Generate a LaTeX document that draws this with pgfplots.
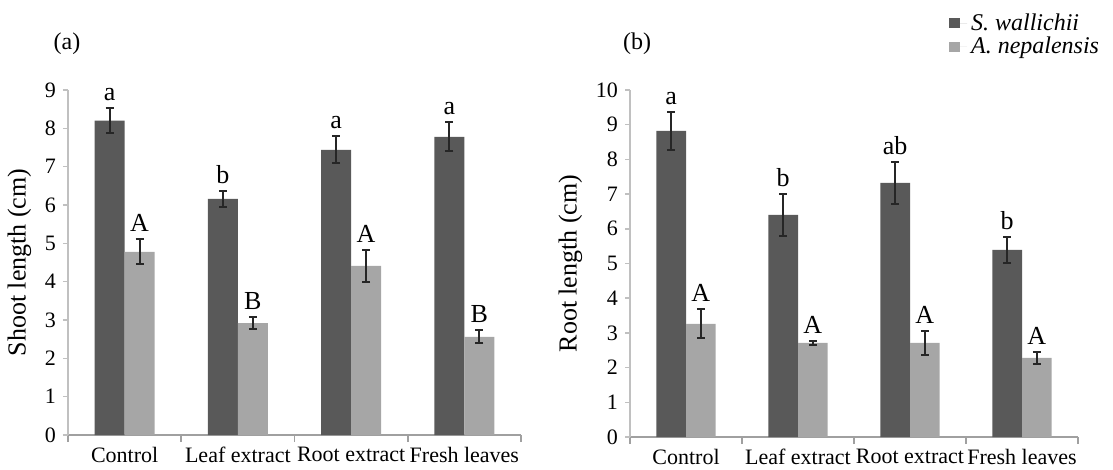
\documentclass[border=0pt]{standalone}
\usepackage{fontspec}
\setmainfont{Liberation Serif}
\usepackage{pgfplots}
\usepackage{pgfplotstable}
\pgfplotsset{compat=1.18}

\definecolor{darkbar}{RGB}{89,89,89}
\definecolor{lightbar}{RGB}{166,166,166}
\definecolor{errcol}{RGB}{38,38,38}
\definecolor{yaxiscol}{RGB}{192,192,192}
\definecolor{xaxiscol}{RGB}{160,160,160}

% mean, standard error and letter group for each treatment
\pgfplotstableread{
x sw swerr an anerr swlab anlab
0 8.20 0.33 4.78 0.33 a A
1 6.16 0.20 2.92 0.15 b B
2 7.44 0.35 4.41 0.42 a A
3 7.78 0.38 2.56 0.17 a B
}\shoot

\pgfplotstableread{
x sw swerr an anerr swlab anlab
0 8.82 0.55 3.26 0.42 a A
1 6.40 0.60 2.71 0.06 b A
2 7.32 0.60 2.71 0.35 ab A
3 5.39 0.37 2.28 0.17 b A
}\root

\pgfplotsset{
  panel/.style={
    scale only axis,
    clip=false,
    xmin=-0.5, xmax=3.5,
    ymin=0,
    axis x line*=bottom, axis y line*=left,
    x axis line style={xaxiscol, line width=1pt},
    y axis line style={yaxiscol, line width=1pt},
    xtick={0,1,2,3},
    xticklabels={Control, Leaf extract, Root extract, Fresh leaves},
    minor xtick={-0.5,0.5,1.5,2.5,3.5},
    major x tick style={draw=none},
    minor x tick style={xaxiscol, line width=0.8pt},
    minor tick length=3.5pt,
    major tick length=2.5pt,
    y tick style={yaxiscol, line width=0.8pt},
    tick align=outside,
    ytick distance=1,
    /pgf/number format/assume math mode=true,
    yticklabel style={font=\fontsize{11}{13}\selectfont},
    xticklabel style={font=\fontsize{11}{13}\selectfont},
    ylabel style={font=\fontsize{13}{15}\selectfont},
  },
  % bars are placed at the shifted x directly so the error bars sit on them
  darkbars/.style={ybar, bar width=0.265, bar shift=0, fill=darkbar, draw=none,
    error bars/.cd, y dir=both, y explicit,
    error bar style={errcol, line width=1pt},
    error mark options={errcol, rotate=90, mark size=2pt, line width=1pt}},
  lightbars/.style={ybar, bar width=0.265, bar shift=0, fill=lightbar, draw=none,
    error bars/.cd, y dir=both, y explicit,
    error bar style={errcol, line width=1pt},
    error mark options={errcol, rotate=90, mark size=2pt, line width=1pt}},
  letters/.style={draw=none, mark=none, nodes near coords, point meta=explicit symbolic,
    nodes near coords style={anchor=south, inner sep=3.5pt, font=\fontsize{13}{15}\selectfont, text=black}},
}

\begin{document}
\begin{tikzpicture}
\path[use as bounding box] (0pt,0pt) rectangle (556.5pt,-235pt);

\node[font=\fontsize{12}{14}\selectfont] at (33.5pt,-22pt) {(a)};
\node[font=\fontsize{12}{14}\selectfont] at (318.5pt,-22pt) {(b)};

% (a) shoot length
\begin{axis}[panel, at={(34pt,-217.5pt)}, anchor=south west,
  width=226.5pt, height=172.5pt, ymax=9,
  ylabel={Shoot length (cm)}]
\addplot[darkbars] table[x expr=\thisrow{x}-0.1325, y=sw, y error=swerr] {\shoot};
\addplot[lightbars] table[x expr=\thisrow{x}+0.1325, y=an, y error=anerr] {\shoot};
\addplot[letters] table[x expr=\thisrow{x}-0.1325, y expr=\thisrow{sw}+\thisrow{swerr}, meta=swlab] {\shoot};
\addplot[letters] table[x expr=\thisrow{x}+0.1325, y expr=\thisrow{an}+\thisrow{anerr}, meta=anlab] {\shoot};
\end{axis}

% (b) root length
\begin{axis}[panel, at={(315pt,-218.5pt)}, anchor=south west,
  width=224pt, height=173.5pt, ymax=10,
  ylabel={Root length (cm)},
  legend style={at={(0.698,1.245)}, anchor=north west, draw=none, fill=none,
    font=\fontsize{12}{14}\selectfont\itshape, row sep=-2pt},
  legend cell align=left,
  legend image code/.code={\path (0pt,0pt) -- (9pt,0pt);
    \path[fill, draw=none] (0pt,-2.5pt) rectangle (5.5pt,2.5pt);}]
\addplot[darkbars] table[x expr=\thisrow{x}-0.1325, y=sw, y error=swerr] {\root};
\addplot[lightbars] table[x expr=\thisrow{x}+0.1325, y=an, y error=anerr] {\root};
\addplot[letters] table[x expr=\thisrow{x}-0.1325, y expr=\thisrow{sw}+\thisrow{swerr}, meta=swlab] {\root};
\addplot[letters] table[x expr=\thisrow{x}+0.1325, y expr=\thisrow{an}+\thisrow{anerr}, meta=anlab] {\root};
\legend{S. wallichii, A. nepalensis}
\end{axis}
\end{tikzpicture}
\end{document}
